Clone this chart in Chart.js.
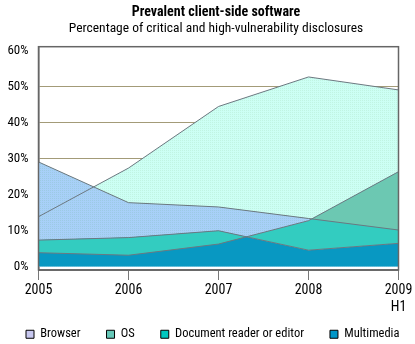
<!DOCTYPE html>
<html>
<head>
<meta charset="utf-8">
<script src="https://cdn.jsdelivr.net/npm/chart.js@4.4.0/dist/chart.umd.min.js"></script>
<style>
  html, body { margin: 0; padding: 0; background: #fff; }
  #wrap { width: 415px; height: 344px; }
</style>
</head>
<body>
<div id="wrap"><canvas id="chart" width="415" height="344"></canvas></div>
<script>
'use strict';

// values (percent)
const years = ['2005', '2006', '2007', '2008', ['2009', 'H1']];
const browser = [13.8, 27.3, 44.4, 52.6, 49.0];
const os = [29.0, 17.7, 16.5, 13.3, 10.1];
const docReader = [3.8, 3.1, 6.2, 12.7, 26.3];
const multimedia = [7.3, 8.0, 9.9, 4.5, 6.4];
const yTicks = [0, 10, 20, 30, 40, 50, 60];
const seriesNames = ['Browser', 'OS', 'Document reader or editor', 'Multimedia'];

const legendColors = ['#c8c8f0', '#66c8b8', '#00c8c0', '#0096c8'];
const FONT = "'Roboto Condensed', 'DejaVu Sans Condensed', sans-serif";
const LINE = '#6c7880';
const GRID = '#a39b78';

Chart.defaults.font.family = FONT;
Chart.defaults.color = '#000';

// small dotted fill like the original print
function dotted(base, dot) {
  const c = document.createElement('canvas');
  c.width = 2; c.height = 2;
  const g = c.getContext('2d');
  g.fillStyle = base; g.fillRect(0, 0, 2, 2);
  g.fillStyle = dot; g.fillRect(0, 0, 1, 1);
  return g.createPattern(c, 'repeat');
}

const lightCyan = dotted('#ccfff4', '#c0f4e2');
const lightBlue = dotted('#a8d0f8', '#9ccae4');

// dark frame round the plot area
const framePlugin = {
  id: 'frame',
  afterDraw(chart) {
    const { ctx, chartArea: a } = chart;
    ctx.save();
    ctx.strokeStyle = '#666';
    ctx.lineWidth = 1.5;
    ctx.strokeRect(a.left, a.top, a.right - a.left, a.bottom - a.top);
    ctx.restore();
  }
};

function line(label, data, order, fill, bg) {
  return {
    label: label,
    data: data,
    order: order,
    fill: fill,
    backgroundColor: bg,
    borderColor: LINE,
    borderWidth: 1,
    pointRadius: 0,
    tension: 0
  };
}

const datasets = [
  line(seriesNames[0], browser, 5, 'origin', lightCyan),
  line(seriesNames[1], os, 4, 'origin', lightBlue),
  line(seriesNames[2], docReader, 2, { target: 3, above: '#33ccc0', below: '#33ccc0' }, '#33ccc0'),
  line(seriesNames[3], multimedia, 3, 'origin', '#0898c2'),
  // teal part where document readers rise above OS
  Object.assign(line('', docReader, 1, { target: 1, above: '#6cc8b2', below: 'rgba(0,0,0,0)' }, '#6cc8b2'), { borderWidth: 0 })
];

new Chart(document.getElementById('chart'), {
  type: 'line',
  data: { labels: years, datasets: datasets },
  plugins: [framePlugin],
  options: {
    responsive: false,
    animation: false,
    // negative right padding so the titles centre over the plot like the original
    layout: { padding: { left: 0, right: -17, top: 0, bottom: 0 } },
    plugins: {
      filler: { drawTime: 'beforeDatasetsDraw' },
      tooltip: { enabled: false },
      title: {
        display: true,
        text: 'Prevalent client-side software',
        font: { size: 14, weight: 'bold' },
        color: '#000',
        padding: { top: 4, bottom: 0 }
      },
      subtitle: {
        display: true,
        text: 'Percentage of critical and high-vulnerability disclosures',
        font: { size: 13.5 },
        color: '#000',
        padding: { top: 0, bottom: 9.7 }
      },
      legend: {
        position: 'bottom',
        align: 'start',
        maxHeight: 28,
        title: { display: true, text: '', font: { size: 0 }, padding: { top: -14, bottom: 0 } },
        labels: {
          boxWidth: 8,
          boxHeight: 8,
          padding: 26,
          font: { size: 12.5 },
          generateLabels: () => seriesNames.map((name, i) => ({
            text: name,
            fillStyle: legendColors[i],
            strokeStyle: '#000',
            lineWidth: 1,
            hidden: false,
            datasetIndex: i
          }))
        }
      }
    },
    scales: {
      x: {
        type: 'category',
        offset: false,
        afterFit: scale => { scale.height = 46; scale.paddingRight = 16.5; },
        grid: { drawOnChartArea: false, drawTicks: true, tickLength: 10, color: '#777' },
        border: { color: '#777', width: 2 },
        ticks: { font: { size: 14 }, color: '#000', padding: 2, maxRotation: 0, autoSkip: false }
      },
      y: {
        min: -1,
        max: 61,
        z: 1,
        afterBuildTicks: scale => { scale.ticks = yTicks.map(v => ({ value: v })); },
        afterFit: scale => { scale.width = 38.5; },
        grid: {
          drawTicks: false,
          color: c => (c.tick && (c.tick.value === 0 || c.tick.value === 60)) ? 'rgba(0,0,0,0)' : GRID
        },
        border: { color: '#666', width: 1.5 },
        ticks: { font: { size: 13 }, color: '#000', padding: 10, callback: v => v + '%' }
      }
    }
  }
});
</script>
</body>
</html>
